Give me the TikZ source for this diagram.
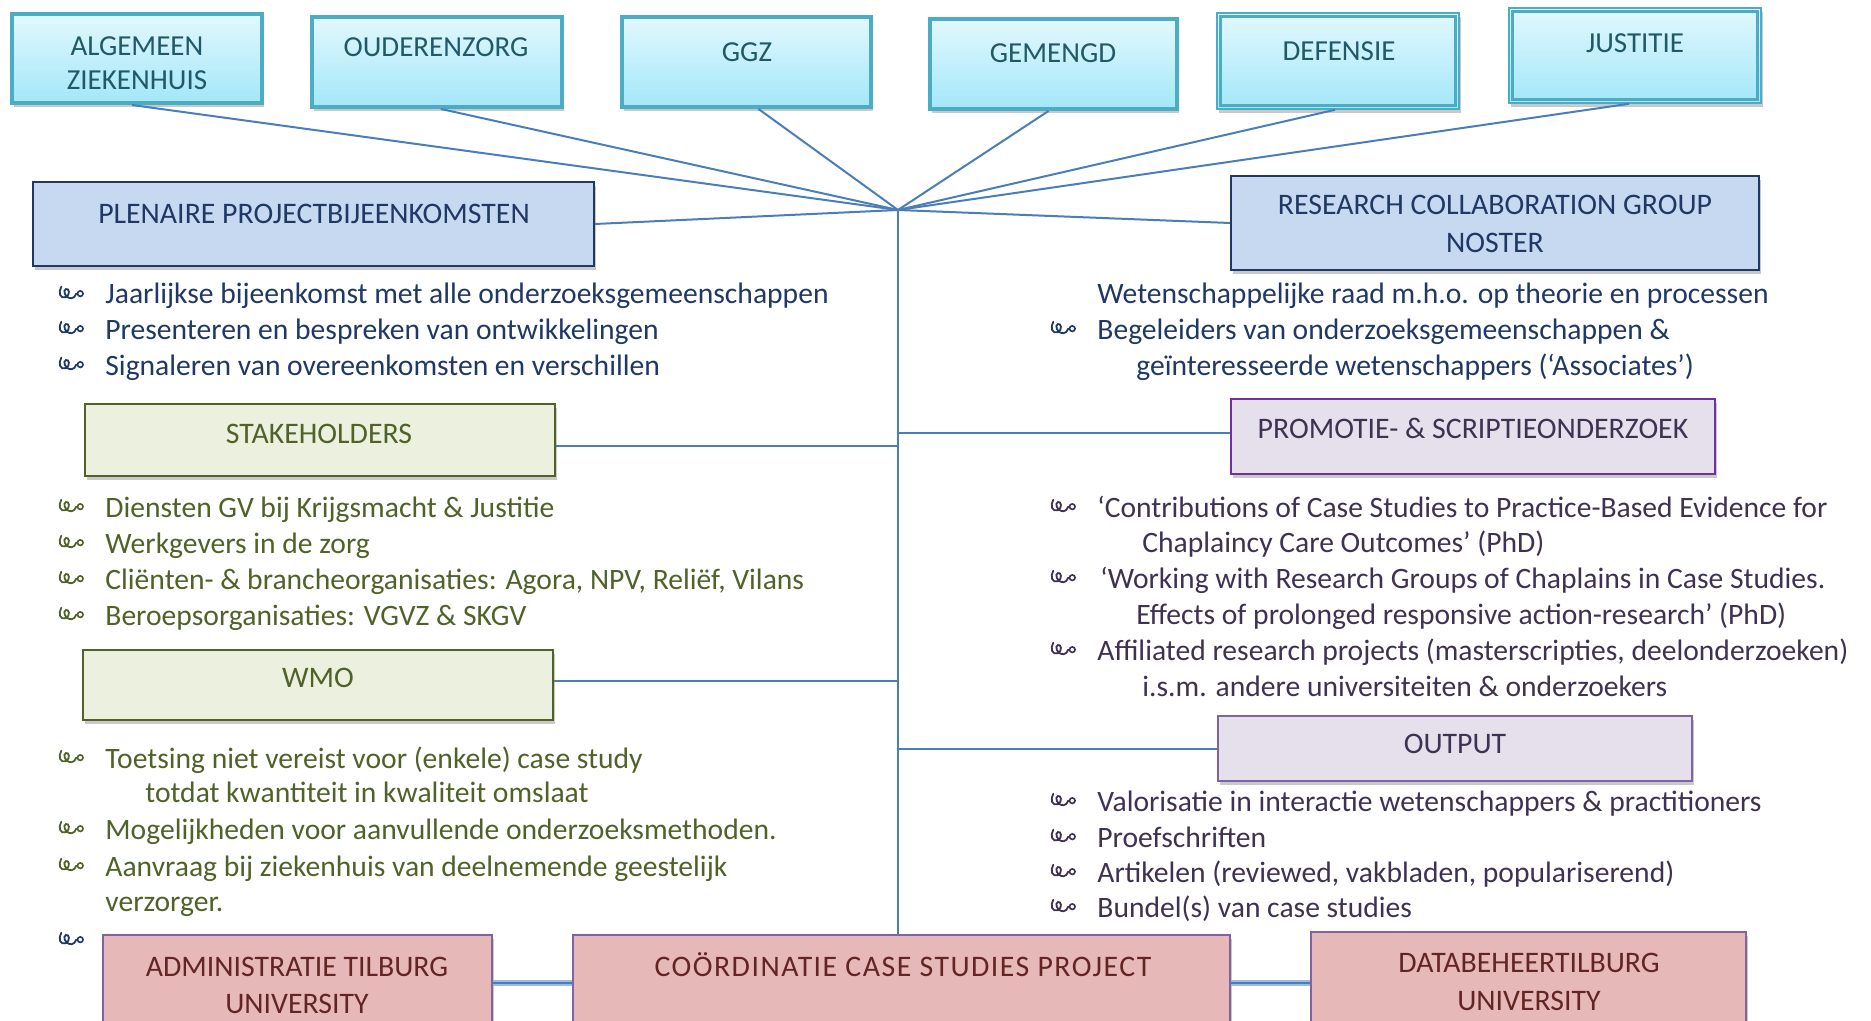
\documentclass[tikz,border=0pt]{standalone}
\usepackage{fontspec}
\setmainfont{Carlito}
\newfontfamily\widefont[LetterSpace=5]{Carlito}
\usetikzlibrary{shadows,fit}
\definecolor{tealB}{HTML}{4BACC6}
\definecolor{topA}{HTML}{E2F8FD}
\definecolor{topB}{HTML}{A3E7F9}
\definecolor{tealT}{HTML}{215968}
\definecolor{conn}{HTML}{4A7EBB}
\definecolor{connL}{HTML}{9DBBE0}
\definecolor{blueF}{HTML}{C6D9F1}
\definecolor{navy}{HTML}{1F3864}
\definecolor{greenF}{HTML}{EBF1DE}
\definecolor{olive}{HTML}{4F6228}
\definecolor{lavF}{HTML}{E5E0EC}
\definecolor{purpB}{HTML}{7030A0}
\definecolor{purpO}{HTML}{8064A2}
\definecolor{purpT}{HTML}{3F3151}
\definecolor{roseF}{HTML}{E6B9B8}
\definecolor{redT}{HTML}{632523}
\newcommand\bx[6]{\node[#1, fit={(#3,#4) (#5,#6)}] (#2) {};}
\newcommand\tx[5]{\node[#1] (#2) at (#3,#4) {#5};}
\newcommand\bu[3]{\pic[scale=1.15] (#1) at (#2,#3) {orn};}
\begin{document}
\begin{tikzpicture}[x=0.5pt,y=-0.5pt,
  shad/.style={drop shadow={shadow xshift=0.8pt, shadow yshift=-2pt, opacity=0.3, fill=black!70}},
  topbox/.style={draw=tealB, line width=2pt, top color=topA, bottom color=topB, inner sep=0, shad},
  topboxd/.style={draw=tealB, line width=0.8pt, top color=topA, bottom color=topB, inner sep=0, shad},
  bluebox/.style={draw=navy, line width=1pt, fill=blueF, inner sep=0, shad},
  greenbox/.style={draw=olive, line width=1pt, fill=greenF, inner sep=0, shad},
  lavbox/.style={draw=purpB, line width=1pt, fill=lavF, inner sep=0, shad},
  lavboxo/.style={draw=purpO, line width=1pt, fill=lavF, inner sep=0, shad},
  rosebox/.style={draw=purpO, line width=1pt, fill=roseF, inner sep=0, shad},
  ttxt/.style={anchor=base, inner sep=0, font=\fontsize{14.5pt}{17pt}\selectfont},
  btxt/.style={anchor=base, inner sep=0, font=\fontsize{14.9pt}{17pt}\selectfont},
  ltxt/.style={anchor=base west, inner sep=0, font=\fontsize{14.8pt}{17pt}\selectfont},
  orn/.pic={
    \draw[line width=0.9pt, line cap=round]
      (2,-15) .. controls (-1,-10) and (1,-4) .. (6,-6)
      .. controls (10,-8) and (9,-14) .. (6,-13)
      .. controls (3,-12) and (5,-5) .. (11,-5)
      .. controls (13,-5) and (14,-7) .. (15,-9);
    \draw[line width=0.8pt] (18.5,-9) circle[radius=2.4];
  },
  cline/.style={draw=conn, line width=1pt},
  dline/.style={draw=connL, line width=2.6pt, postaction={draw=conn, line width=0.8pt}}
]
\useasboundingbox (0,0) rectangle (1871,1021);
\clip (0,0) rectangle (1871,1021);

% ---- top boxes
\bx{topbox}{alg}{12}{14}{262}{103}
\bx{topbox}{oud}{312}{17}{562}{107}
\bx{topbox}{ggz}{622}{17}{871}{107}
\bx{topbox}{gem}{930}{19}{1177}{109}
\bx{topboxd}{def}{1217}{13}{1459}{109}
\bx{topboxd}{jus}{1509}{8}{1761}{103}
\draw[tealB, line width=1.4pt] ([shift={(4.5,4.5)}]def.north west) rectangle ([shift={(-4.5,-4.5)}]def.south east);
\draw[tealB, line width=1.4pt] ([shift={(4.5,4.5)}]jus.north west) rectangle ([shift={(-4.5,-4.5)}]jus.south east);
\begin{scope}[tealT]
\tx{ttxt}{algt1}{137}{56}{ALGEMEEN}
\tx{ttxt}{algt2}{137}{90}{ZIEKENHUIS}
\tx{ttxt}{oudt}{436}{57}{OUDERENZORG}
\tx{ttxt}{ggzt}{747}{62}{GGZ}
\tx{ttxt}{gemt}{1053}{63}{GEMENGD}
\tx{ttxt}{deft}{1339}{61}{DEFENSIE}
\tx{ttxt}{just}{1635}{53}{JUSTITIE}
\end{scope}

% ---- hub and connectors
\coordinate (hub) at (898,210);
\bx{bluebox}{plen}{33}{182}{594}{266}
\bx{bluebox}{res}{1231}{176}{1759}{270}
\bx{lavbox}{prom}{1231}{399}{1715}{474}
\bx{greenbox}{stake}{85}{404}{555}{476}
\bx{greenbox}{wmo}{83}{650}{553}{720}
\bx{lavboxo}{outp}{1218}{716}{1692}{781}
\bx{rosebox}{adm}{103}{935}{492}{1035}
\bx{rosebox}{coord}{573}{935}{1230}{1035}
\bx{rosebox}{data}{1311}{932}{1746}{1035}

\draw[cline] ([xshift=-2.5pt]alg.south) -- (hub);
\draw[cline] ([xshift=2pt]oud.south) -- (hub);
\draw[cline] ([xshift=6pt]ggz.south) -- (hub);
\draw[cline] ([xshift=-2.5pt]gem.south) -- (hub);
\draw[cline] ([xshift=-1.5pt]def.south) -- (hub);
\draw[cline] ([xshift=-3pt]jus.south) -- (hub);
\draw[cline] (plen.east) -- (hub);
\draw[cline] (res.west) -- (hub);
\draw[cline] (hub) -- (hub |- coord.north);
\draw[cline] ([yshift=-3pt]stake.east) -- ([yshift=-3pt]stake.east -| hub);
\draw[cline] ([yshift=2pt]prom.west) -- ([yshift=2pt]prom.west -| hub);
\draw[cline] ([yshift=2pt]wmo.east) -- ([yshift=2pt]wmo.east -| hub);
\draw[cline] (outp.west) -- (outp.west -| hub);
\draw[dline] (adm.east |- 0,983) -- (coord.west |- 0,983);
\draw[dline] (coord.east |- 0,983) -- (data.west |- 0,983);

% ---- box texts
\begin{scope}[navy]
\tx{btxt}{plent}{314}{224}{PLENAIRE PROJECTBIJEENKOMSTEN}
\tx{btxt}{rest1}{1495}{215}{RESEARCH COLLABORATION GROUP}
\tx{btxt}{rest2}{1495}{253}{NOSTER}
\end{scope}
\begin{scope}[olive]
\tx{btxt}{staket}{319}{443}{STAKEHOLDERS}
\tx{btxt}{wmot}{318}{687}{WMO}
\end{scope}
\begin{scope}[purpT]
\tx{btxt}{promt}{1473}{438}{PROMOTIE- \& SCRIPTIEONDERZOEK}
\tx{btxt}{outpt}{1455}{753}{OUTPUT}
\end{scope}
\begin{scope}[redT]
\tx{btxt}{admt1}{297}{976}{ADMINISTRATIE TILBURG}
\tx{btxt}{admt2}{297}{1013}{UNIVERSITY}
\tx{btxt}{coordt}{903}{976}{\widefont COÖRDINATIE CASE STUDIES PROJECT}
\tx{btxt}{datat1}{1529}{972}{DATABEHEERTILBURG}
\tx{btxt}{datat2}{1529}{1010}{UNIVERSITY}
\end{scope}

% ---- bullet lists
\begin{scope}[navy]
\bu{pb1}{59}{304}\tx{ltxt}{pl1}{105}{304}{Jaarlijkse bijeenkomst met alle onderzoeksgemeenschappen}
\bu{pb2}{59}{339}\tx{ltxt}{pl2}{105}{339}{Presenteren en bespreken van ontwikkelingen}
\bu{pb3}{59}{375}\tx{ltxt}{pl3}{105}{375}{Signaleren van overeenkomsten en verschillen}
\tx{ltxt}{rl1}{1097}{304}{Wetenschappelijke raad m.h.o. op theorie en processen}
\bu{rb2}{1051}{339}\tx{ltxt}{rl2}{1097}{339}{Begeleiders van onderzoeksgemeenschappen \&}
\tx{ltxt}{rl3}{1136}{375}{geïnteresseerde wetenschappers (‘Associates’)}
\bu{wb6}{59}{950}
\end{scope}
\begin{scope}[olive]
\bu{sb1}{59}{517}\tx{ltxt}{sl1}{105}{517}{Diensten GV bij Krijgsmacht \& Justitie}
\bu{sb2}{59}{553}\tx{ltxt}{sl2}{105}{553}{Werkgevers in de zorg}
\bu{sb3}{59}{589}\tx{ltxt}{sl3}{105}{589}{Cliënten- \& brancheorganisaties: Agora, NPV, Reliëf, Vilans}
\bu{sb4}{59}{625}\tx{ltxt}{sl4}{105}{625}{Beroepsorganisaties: VGVZ \& SKGV}
\bu{wb1}{59}{768}\tx{ltxt}{wl1}{105}{768}{Toetsing niet vereist voor (enkele) case study}
\tx{ltxt}{wl2}{145}{802}{totdat kwantiteit in kwaliteit omslaat}
\bu{wb3}{59}{839}\tx{ltxt}{wl3}{105}{839}{Mogelijkheden voor aanvullende onderzoeksmethoden.}
\bu{wb4}{59}{876}\tx{ltxt}{wl4}{105}{876}{Aanvraag bij ziekenhuis van deelnemende geestelijk}
\tx{ltxt}{wl5}{105}{911}{verzorger.}
\end{scope}
\begin{scope}[purpT]
\bu{mb1}{1051}{517}\tx{ltxt}{ml1}{1097}{517}{‘Contributions of Case Studies to Practice-Based Evidence for}
\tx{ltxt}{ml2}{1142}{552}{Chaplaincy Care Outcomes’ (PhD)}
\bu{mb3}{1051}{588}\tx{ltxt}{ml3}{1100}{588}{‘Working with Research Groups of Chaplains in Case Studies.}
\tx{ltxt}{ml4}{1136}{624}{Effects of prolonged responsive action-research’ (PhD)}
\bu{mb5}{1051}{660}\tx{ltxt}{ml5}{1097}{660}{Affiliated research projects (masterscripties, deelonderzoeken)}
\tx{ltxt}{ml6}{1142}{696}{i.s.m. andere universiteiten \& onderzoekers}
\bu{ob1}{1051}{811}\tx{ltxt}{ol1}{1097}{811}{Valorisatie in interactie wetenschappers \& practitioners}
\bu{ob2}{1051}{847}\tx{ltxt}{ol2}{1097}{847}{Proefschriften}
\bu{ob3}{1051}{882}\tx{ltxt}{ol3}{1097}{882}{Artikelen (reviewed, vakbladen, populariserend)}
\bu{ob4}{1051}{917}\tx{ltxt}{ol4}{1097}{917}{Bundel(s) van case studies}
\end{scope}
\end{tikzpicture}
\end{document}
